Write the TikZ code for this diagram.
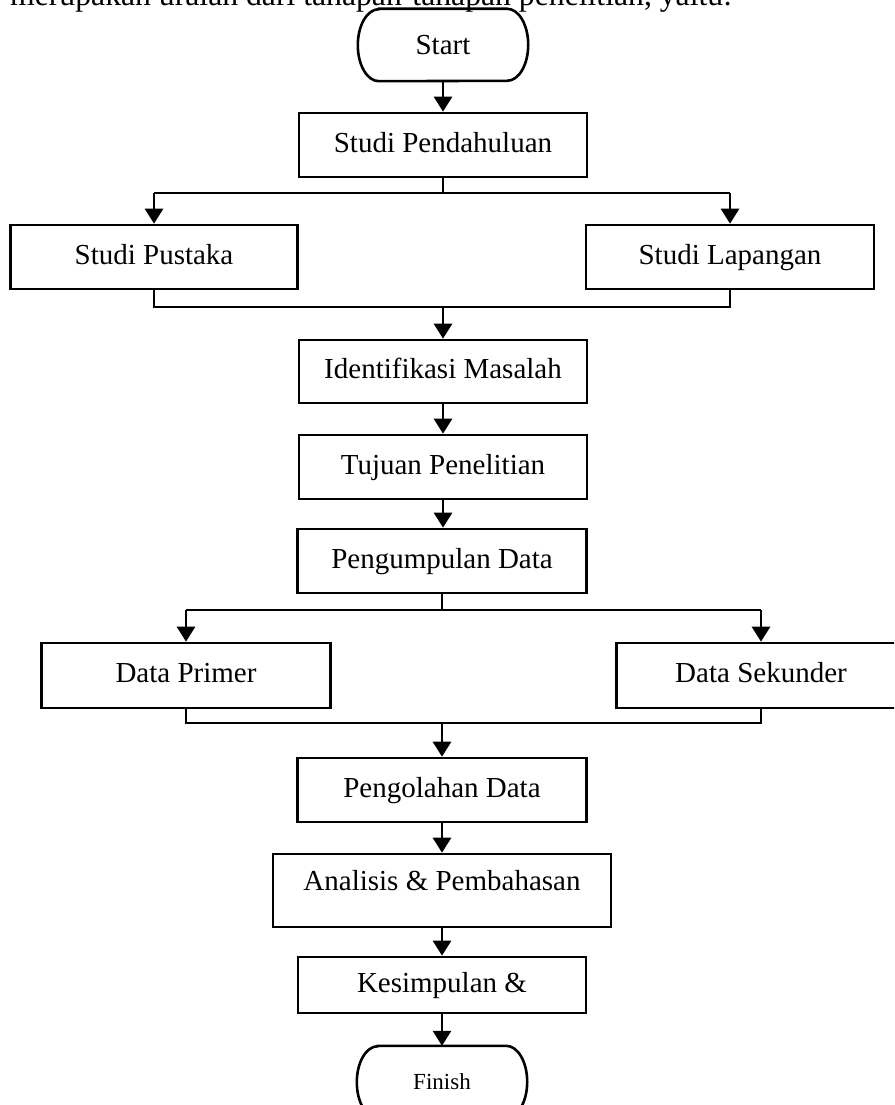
\documentclass[tikz,border=0pt]{standalone}
\usepackage{fontspec}
\setmainfont{Liberation Serif}
\usetikzlibrary{arrows.meta}
\begin{document}
\begin{tikzpicture}[x=1pt,y=-1pt,
  box/.style={draw,line width=2.6pt,minimum width=288pt,minimum height=64pt,inner sep=0pt,
    text height=20pt,text depth=6pt,font=\fontsize{29}{35}\selectfont},
  term/.style={minimum width=170pt,minimum height=72pt,inner sep=0pt},
  arr/.style={line width=2.8pt,-{Triangle[length=15pt,width=18pt]}},
  ln/.style={line width=1.3pt}]
\useasboundingbox (0,0) rectangle (894,1105);
\clip (0,0) rectangle (894,1105);

\node[anchor=base west,inner sep=0pt,font=\fontsize{31.7}{38}\selectfont] (intro) at (10,6) {merupakan uraian dari tahapan-tahapan penelitian, yaitu:};

\node[term,font=\fontsize{29}{35}\selectfont] (start) at (443,45) {Start};
\node[box] (pend) at (443,145) {Studi Pendahuluan};
\node[box,minimum width=287pt] (pustaka) at (154,257) {Studi Pustaka};
\node[box] (lapangan) at (730,257) {Studi Lapangan};
\node[box,minimum height=63pt] (ident) at (443,371.5) {Identifikasi Masalah};
\node[box] (tujuan) at (443,467) {Tujuan Penelitian};
\node[box,minimum width=289pt] (kumpul) at (442,561) {Pengumpulan Data};
\node[box,minimum width=289pt,minimum height=65pt] (primer) at (186,675.5) {Data Primer};
\node[box,minimum width=289pt,minimum height=65pt] (sekunder) at (761,675.5) {Data Sekunder};
\node[box,minimum width=289pt] (olah) at (442,790) {Pengolahan Data};
\node[box,minimum width=338pt,minimum height=73pt,text depth=20pt] (analisis) at (442,890.5) {Analisis \& Pembahasan};
\node[box,minimum height=56pt] (simpul) at (442,985) {Kesimpulan \&};
\node[term,font=\fontsize{23}{28}\selectfont] (finish) at (442,1082) {Finish};

% ujung bulat start / finish
\foreach \n in {start,finish}{
\draw[line width=2.6pt] ([xshift=21pt]\n.north west) -- ([xshift=-21pt]\n.north east)
  arc[start angle=90,end angle=-90,x radius=21pt,y radius=36pt]
  -- ([xshift=21pt]\n.south west)
  arc[start angle=270,end angle=90,x radius=21pt,y radius=36pt] -- cycle;
}

\coordinate (j1) at (443,193);
\coordinate (sL) at (154,193);
\coordinate (sR) at (730,193);
\coordinate (m1) at (154,307);
\coordinate (m2) at (730,307);
\coordinate (m) at (443,307);
\coordinate (j2) at (442,610);
\coordinate (dL) at (186,610);
\coordinate (dR) at (761,610);
\coordinate (n1) at (186,723);
\coordinate (n2) at (761,723);
\coordinate (n) at (442,723);

\draw[arr] (start) -- (pend);
\draw[ln] (pend.south) -- (j1);
\draw[ln] (sL) -- (sR);
\draw[arr] (sL) -- (pustaka.north);
\draw[arr] (sR) -- (lapangan.north);
\draw[ln] (pustaka.south) -- (m1) -- (m2) -- (lapangan.south);
\draw[arr] (m) -- (ident.north);
\draw[arr] (ident) -- (tujuan);
\draw[arr] (tujuan.south) -- (tujuan.south |- kumpul.north);

\draw[ln] (kumpul.south) -- (j2);
\draw[ln] (dL) -- (dR);
\draw[arr] (dL) -- (primer.north);
\draw[arr] (dR) -- (sekunder.north);
\draw[ln] (primer.south) -- (n1) -- (n2) -- (sekunder.south);
\draw[arr] (n) -- (olah.north);
\draw[arr] (olah) -- (analisis);
\draw[arr] (analisis) -- (simpul);
\draw[arr] (simpul) -- (finish);
\end{tikzpicture}
\end{document}
